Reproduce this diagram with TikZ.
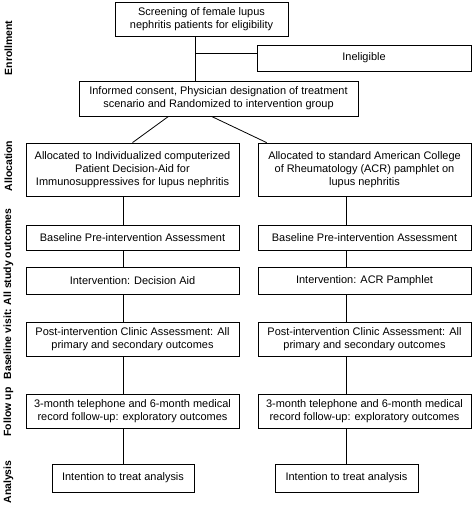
\documentclass[tikz,border=0pt]{standalone}
\usepackage{fontspec}
\setmainfont{Liberation Sans}
\usetikzlibrary{calc}
\newcommand*{\boxtextstyle}{\fontsize{11}{13}\selectfont}
\newcommand*{\sidetextstyle}{\fontsize{10.5}{12.5}\selectfont\bfseries}

\begin{document}
\begin{tikzpicture}[x=1bp, y=-1bp, line width=0.8bp,
    flowbox/.style={draw=black, font=\boxtextstyle, align=center, inner sep=2bp},
    sidelabel/.style={font=\sidetextstyle, rotate=90}]

    \useasboundingbox (0,0) rectangle (472,506);

    % enrollment
    \node[flowbox, minimum width=173bp, minimum height=34bp] (screen) at (201.5,19)
      {Screening of female lupus\\ nephritis patients for eligibility};
    \node[flowbox, minimum width=214bp, minimum height=26bp] (inel) at (364,58)
      {Ineligible};
    \node[flowbox, minimum width=279bp, minimum height=35bp] (consent) at (218.5,98.5)
      {Informed consent, Physician designation of treatment\\
       scenario and Randomized to intervention group};

    \coordinate (trunk) at (195,0);
    \coordinate (branch) at (195,53);
    \draw (screen.south -| trunk) -- (consent.north -| trunk);
    \draw (branch) -- (branch -| inel.west);

    % allocation
    \node[flowbox, minimum width=213bp, minimum height=53bp] (alloc1) at (132.5,169.5)
      {Allocated to Individualized computerized\\ Patient Decision-Aid for\\
       Immunosuppressives for lupus nephritis};
    \node[flowbox, minimum width=213bp, minimum height=53bp] (alloc2) at (364.5,169.5)
      {Allocated to standard American College\\ of Rheumatology (ACR) pamphlet on\\
       lupus nephritis};

    \coordinate (splitl) at ($(consent.south)+(-50,0)$);
    \coordinate (splitr) at ($(consent.south)+(-7,0)$);
    \coordinate (joinr) at ($(alloc2.north west)+(9,0)$);
    \draw (splitl) -- (alloc1.north);
    \draw (splitr) -- (joinr);

    % baseline visit
    \node[flowbox, minimum width=213bp, minimum height=25bp] (base1) at (132.5,237.5)
      {Baseline Pre-intervention Assessment};
    \node[flowbox, minimum width=213bp, minimum height=25bp] (base2) at (364.5,237.5)
      {Baseline Pre-intervention Assessment};
    \node[flowbox, minimum width=213bp, minimum height=27bp] (inter1) at (132.5,280.5)
      {Intervention: Decision Aid};
    \node[flowbox, minimum width=213bp, minimum height=27bp] (inter2) at (364.5,280.5)
      {Intervention: ACR Pamphlet};
    \node[flowbox, minimum width=213bp, minimum height=34bp] (post1) at (132.5,339)
      {Post-intervention Clinic Assessment: All\\ primary and secondary outcomes};
    \node[flowbox, minimum width=213bp, minimum height=34bp] (post2) at (364.5,339)
      {Post-intervention Clinic Assessment: All\\ primary and secondary outcomes};

    % follow up
    \node[flowbox, minimum width=213bp, minimum height=34bp] (fu1) at (132.5,411)
      {3-month telephone and 6-month medical\\ record follow-up: exploratory outcomes};
    \node[flowbox, minimum width=213bp, minimum height=34bp] (fu2) at (364.5,411)
      {3-month telephone and 6-month medical\\ record follow-up: exploratory outcomes};

    % analysis
    \node[flowbox, minimum width=142bp, minimum height=28bp] (ana1) at (123,478)
      {Intention to treat analysis};
    \node[flowbox, minimum width=143bp, minimum height=28bp] (ana2) at (346.5,478)
      {Intention to treat analysis};

    \foreach \s in {1,2}
      \foreach \a/\b in {alloc/base, base/inter, inter/post, post/fu, fu/ana}
        \draw (\a\s.south -| ana\s) -- (\b\s.north -| ana\s);

    % side labels
    \node[sidelabel] (lenroll) at (8.5,48) {Enrollment};
    \node[sidelabel] (lalloc) at (8.5,166) {Allocation};
    \node[sidelabel] (lbase) at (8.5,294) {Baseline visit: All study outcomes};
    \node[sidelabel] (lfollow) at (8.5,412) {Follow up};
    \node[sidelabel] (lana) at (8.5,482) {Analysis};

\end{tikzpicture}
\end{document}
